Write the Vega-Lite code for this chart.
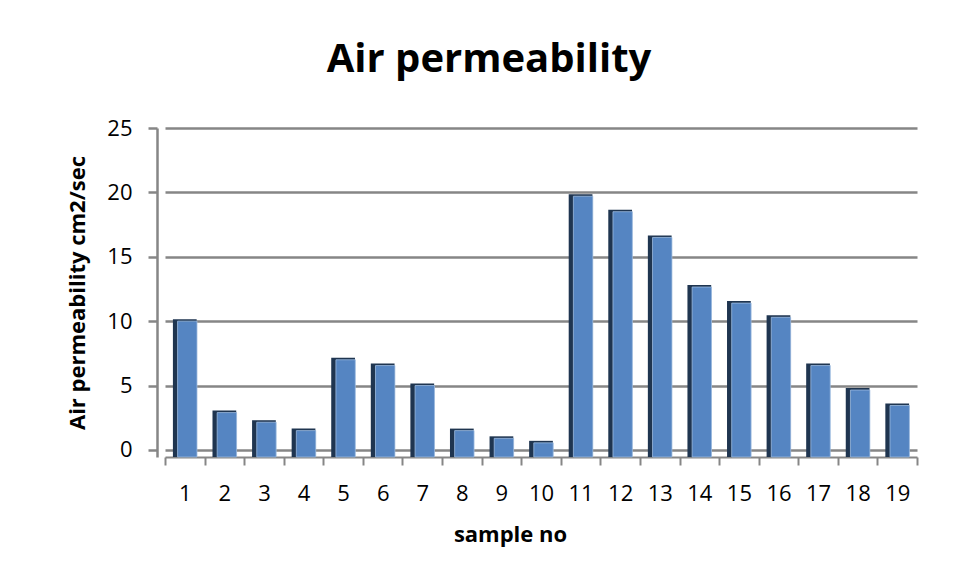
{
  "$schema": "https://vega.github.io/schema/vega-lite/v6.json",
  "width": 752,
  "height": 329,
  "autosize": "none",
  "padding": {"left": 165, "top": 128, "right": 40, "bottom": 126},
  "background": "white",
  "title": {
    "text": "Air permeability",
    "font": "Open Sans",
    "fontSize": 40,
    "fontWeight": "bold",
    "color": "#000000",
    "anchor": "middle",
    "dx": -52,
    "offset": 37
  },
  "data": {
    "values": [
      {"sample": "1", "perm": 10.0},
      {"sample": "2", "perm": 2.9},
      {"sample": "3", "perm": 2.15},
      {"sample": "4", "perm": 1.5},
      {"sample": "5", "perm": 7.0},
      {"sample": "6", "perm": 6.55},
      {"sample": "7", "perm": 5.0},
      {"sample": "8", "perm": 1.5},
      {"sample": "9", "perm": 0.9},
      {"sample": "10", "perm": 0.55},
      {"sample": "11", "perm": 19.7},
      {"sample": "12", "perm": 18.5},
      {"sample": "13", "perm": 16.5},
      {"sample": "14", "perm": 12.65},
      {"sample": "15", "perm": 11.4},
      {"sample": "16", "perm": 10.3},
      {"sample": "17", "perm": 6.55},
      {"sample": "18", "perm": 4.65},
      {"sample": "19", "perm": 3.45}
    ]
  },
  "encoding": {
    "x": {
      "field": "sample",
      "type": "ordinal",
      "sort": null,
      "scale": {"paddingInner": 0, "paddingOuter": 0},
      "axis": {
        "title": "sample no",
        "titleFont": "Open Sans",
        "titleFontSize": 22,
        "titleFontWeight": "bold",
        "titleColor": "#000000",
        "titlePadding": 20,
        "titleX": 345,
        "labelFont": "Open Sans",
        "labelFontSize": 22,
        "labelColor": "#000000",
        "labelAngle": 0,
        "labelPadding": 18,
        "labelDx": 6,
        "domainColor": "#868686",
        "domainWidth": 2,
        "tickColor": "#868686",
        "tickWidth": 2,
        "tickSize": 8,
        "tickBand": "extent",
        "grid": false
      }
    },
    "y": {
      "field": "perm",
      "type": "quantitative",
      "scale": {"domain": [-0.55, 25], "nice": false, "zero": false},
      "axis": {
        "title": "Air permeability cm2/sec",
        "titleFont": "Open Sans",
        "titleFontSize": 22,
        "titleFontWeight": "bold",
        "titleColor": "#000000",
        "titlePadding": 17,
        "labelFont": "Open Sans",
        "labelFontSize": 22,
        "labelColor": "#000000",
        "labelPadding": 16,
        "values": [0, 5, 10, 15, 20, 25],
        "domainColor": "#868686",
        "domainWidth": 2.5,
        "tickColor": "#868686",
        "tickWidth": 2.5,
        "tickSize": 9,
        "offset": 8,
        "grid": true,
        "gridColor": "#868686",
        "gridWidth": 2.5
      }
    }
  },
  "layer": [
    {
      "mark": {"type": "bar", "color": "#1f3550", "width": {"band": 0.6}, "yOffset": -2},
      "encoding": {"y2": {"datum": -0.55}}
    },
    {
      "mark": {"type": "bar", "color": "#5585c2", "width": {"band": 0.49}, "xOffset": 2.5, "stroke": "#9dbbe0", "strokeWidth": 0.8},
      "encoding": {"y2": {"datum": -0.55}}
    }
  ],
  "config": {
    "view": {"stroke": null}
  }
}
